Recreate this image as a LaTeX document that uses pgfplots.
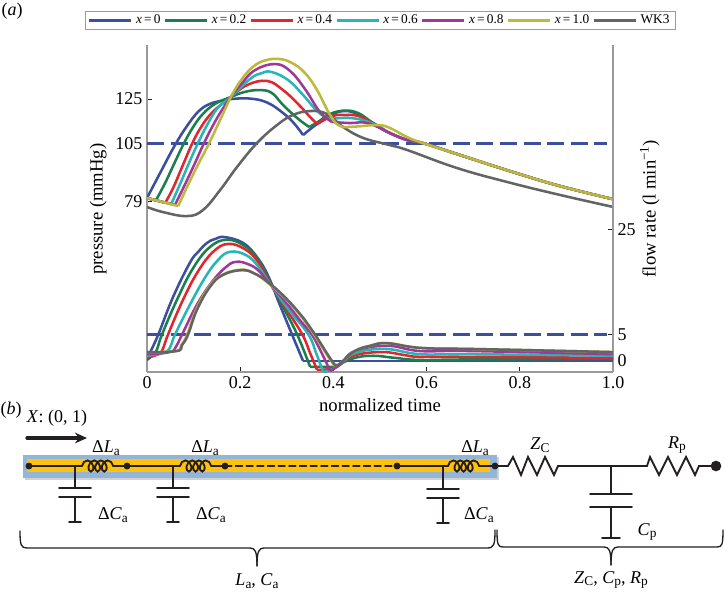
\documentclass[border=0pt]{standalone}
\usepackage{fontspec}
\setmainfont{Liberation Serif}
\usepackage{pgfplots}
\pgfplotsset{compat=1.18}
\usetikzlibrary{decorations.pathmorphing,arrows.meta}

\definecolor{cblue}{HTML}{3B4F9E}
\definecolor{cgreen}{HTML}{1A7F4E}
\definecolor{cred}{HTML}{E0262E}
\definecolor{ccyan}{HTML}{27B5B5}
\definecolor{cpurple}{HTML}{A0379A}
\definecolor{cyellow}{HTML}{BDB93A}
\definecolor{cgray}{HTML}{636466}
\definecolor{caxis}{HTML}{9A9A9A}
\definecolor{cink}{HTML}{231F20}
\definecolor{cband}{HTML}{93B5D8}
\definecolor{cgold}{HTML}{FFC20E}

\newcommand{\lab}{\fontsize{13.5}{16}\selectfont}
\newcommand{\axlab}{\fontsize{14}{16}\selectfont}
\newcommand{\sub}[1]{\raisebox{-0.3ex}{\fontsize{10}{12}\selectfont #1}}

\pgfplotsset{
  curve/.style={line width=1.9pt,smooth,tension=0.7,no markers},
  cont/.style={curve,forget plot},
  mean/.style={cblue,line width=1.9pt,dash pattern=on 12.75pt off 4.9pt,forget plot},
  base/.style={
    at={(110.25pt,-279pt)},anchor=south west,
    scale only axis,width=349.5pt,height=245.25pt,
    xmin=0,xmax=1,
    clip=true,
    axis line style={caxis,line width=1pt},
    tick style={cink,line width=0.5pt},
    major tick length=3.5pt,
    tick align=inside,
    tick label style={font=\lab},
    /pgf/number format/assume math mode=true,
    yticklabel style={/pgf/number format/fixed},
  },
}

\begin{document}
\begin{tikzpicture}[x=0.75pt,y=-0.75pt,line cap=round]
\useasboundingbox (0,0) rectangle (725,594);

\begin{axis}[base,
  axis x line*=bottom,axis y line*=left,
  ymin=2.31,ymax=149.27,
  xtick={0,0.2,0.4,0.6,0.8,1},
  xticklabels={0,0.2,0.4,0.6,0.8,1.0},
  ytick={79,105,125},
  xlabel={normalized time},
  ylabel={pressure (mmHg)},
  every axis x label/.style={at={(rel axis cs:0.5,-0.1)},anchor=center,font=\axlab},
  every axis y label/.style={at={(rel axis cs:-0.105,0.498)},rotate=90,anchor=center,font=\axlab},
]
\addplot[mean] coordinates {(0,105) (0.987,105)};
% each curve is cut at its corners so the spline stays sharp there
\addplot[cont,cblue] coordinates {(0,80.5) (.028,91.7) (.062,105) (.092,114.7) (.114,120.1) (.135,122.8) (.157,124.1) (.182,125) (.221,125.2) (.258,123.4) (.292,118.7) (.315,114.2) (.335,108.8)};
\addplot[cont,cblue] coordinates {(.335,108.8) (.356,112.4) (.376,115.2) (.399,118.3) (.425,119.6) (.451,118.3) (.479,114.7) (.5,112) (.521,109.7) (.558,106.6) (.592,105.2) (.672,99.8) (.785,92.2) (.886,85.9) (1,80)};
\addplot[cont,cgreen] coordinates {(0,80.5) (.019,79.4)};
\addplot[cont,cgreen] coordinates {(.019,79.4) (.039,87.3) (.06,96.7) (.079,105) (.099,112.4) (.12,118.3) (.146,122.8) (.18,125.9) (.21,128.2) (.242,129) (.268,127.7) (.292,122.3) (.322,116.5) (.348,112.4)};
\addplot[cont,cgreen] coordinates {(.348,112.4) (.367,114.7) (.393,118.3) (.425,119.8) (.453,118.7) (.479,115.1) (.5,112.4) (.521,109.7) (.558,106.6) (.592,105.2) (.672,99.8) (.785,92.2) (.886,85.9) (1,80)};
\addplot[cont,cred] coordinates {(0,80.5) (.039,78.3)};
\addplot[cont,cred] coordinates {(.039,78.3) (.056,85) (.077,95.3) (.097,105) (.116,112.4) (.137,118.3) (.161,122.8) (.18,125.9) (.215,131.3) (.258,133.1) (.292,129) (.324,122.8) (.35,116.9) (.365,113.8)};
\addplot[cont,cred] coordinates {(.365,113.8) (.399,117.4) (.425,117.8) (.453,117.4) (.479,114.7) (.5,112.2) (.521,109.7) (.558,106.6) (.592,105.2) (.672,99.8) (.785,92.2) (.886,85.9) (1,80)};
\addplot[cont,ccyan] coordinates {(0,80.5) (.052,77.8)};
\addplot[cont,ccyan] coordinates {(.052,77.8) (.071,86.8) (.092,97.1) (.109,105) (.129,113.3) (.152,121) (.18,125.9) (.221,134) (.247,136.7) (.268,137.1) (.303,133.5) (.335,126.8) (.367,119.2) (.391,116)};
\addplot[cont,ccyan] coordinates {(.391,116) (.425,116.5) (.453,116) (.479,114.4) (.5,112.2) (.521,109.7) (.558,106.6) (.592,105.2) (.672,99.8) (.785,92.2) (.886,85.9) (1,80)};
\addplot[cont,cpurple] coordinates {(0,80.5) (.06,77.4)};
\addplot[cont,cpurple] coordinates {(.06,77.4) (.079,85.5) (.101,95.3) (.122,105) (.142,113.3) (.161,120.1) (.18,125.9) (.202,131.7) (.232,138) (.275,140.7) (.307,137.6) (.339,129.5) (.371,119.2) (.397,114.7)};
\addplot[cont,cpurple] coordinates {(.397,114.7) (.436,114.2) (.468,114.4) (.5,112) (.521,109.7) (.558,106.6) (.592,105.2) (.672,99.8) (.785,92.2) (.886,85.9) (1,80)};
\addplot[cont,cgray] coordinates {(0,76.5) (.034,74.2) (.086,72.4) (.12,75.1) (.157,84.1) (.193,94.4) (.236,105.2) (.279,113.3) (.313,117.8) (.35,119.6) (.386,118.3) (.421,112.4) (.464,107.5) (.521,104.3) (.558,102.1) (.665,94) (.773,87.7) (.886,81.9) (1,76.5)};
\addplot[cont,cyellow] coordinates {(0,80.5) (.067,76.9)};
\addplot[cont,cyellow] coordinates {(.067,76.9) (.086,85.5) (.109,95.3) (.133,105) (.157,115.6) (.18,125.9) (.202,133.5) (.227,139.4) (.253,142.3) (.283,143) (.311,141.2) (.339,136.7) (.365,129) (.393,117.8) (.414,112.9) (.446,112.6) (.494,113.3) (.521,112) (.558,107.9) (.592,105.2) (.672,99.8) (.785,92.2) (.886,85.9) (1,80)};
\end{axis}

\begin{axis}[base,
  axis x line=none,axis y line*=right,
  ymin=-2.095,ymax=60.19,
  ytick={0,5,25},
  ylabel={flow rate (l min\textsuperscript{−1})},
  every axis y label/.style={at={(rel axis cs:1.079,0.5)},rotate=90,anchor=center,font=\axlab},
  legend columns=-1,
  legend cell align=left,
  legend style={
    at={(rel axis cs:0.501,1.075)},anchor=center,
    draw=caxis,line width=0.8pt,inner xsep=2pt,inner ysep=1pt,
    font=\fontsize{10}{12}\selectfont,
    nodes={inner xsep=2.5pt},
    /tikz/every even column/.style={column sep=0pt},
    /tikz/every odd column/.style={column sep=0pt},
  },
  legend image code/.code={\draw[#1,line width=1.9pt,line cap=butt] (0pt,0pt) -- (31.5pt,0pt);},
]
\addplot[mean] coordinates {(0,5) (0.987,5)};
\addplot[curve,cblue] coordinates {(0,.2) (.006,1.5) (.024,5) (.056,12.2) (.092,18.7) (.11,20.8) (.129,22.5) (.148,23.3) (.167,23.6) (.206,22.5) (.236,19.8) (.26,16.2) (.285,10.7) (.311,5.1) (.335,0)};
\addplot[cont,cblue] coordinates {(.335,0) (1,0)};
\addplot[curve,cgreen] coordinates {(0,.2) (.011,1) (.021,2.1) (.032,5) (.064,11.6) (.099,17.7) (.135,21.7) (.172,23.1) (.21,21.9) (.238,19.4) (.26,15.8) (.292,10.3) (.322,5.1) (.35,-1.1)};
\addplot[cont,cgreen] coordinates {(.35,-1.1) (.403,-1.1) (.414,-.6) (.446,.6) (.485,1) (.532,.6) (.586,.2) (.693,.3) (1,.4)};
\addplot[curve,cred] coordinates {(0,.6) (.024,1.3) (.034,2.3) (.045,5) (.077,11.6) (.109,17) (.142,20.8) (.174,22.3) (.21,21.3) (.238,18.9) (.26,15.4) (.296,10.3) (.333,5.1) (.35,1.5) (.365,-1.7)};
\addplot[cont,cred] coordinates {(.365,-1.7) (.393,-1.5) (.414,-.6) (.446,1.1) (.506,1.7) (.554,1.1) (.586,.8) (.693,.8) (1,.6)};
\addplot[curve,ccyan] coordinates {(0,1) (.034,1.5) (.049,2.5) (.06,5) (.092,10.7) (.124,15.8) (.152,19.2) (.178,20.8) (.212,20.2) (.238,18.1) (.26,15.2) (.303,9.9) (.346,5.1) (.363,1.5) (.378,-2.1)};
\addplot[cont,ccyan] coordinates {(.378,-2.1) (.399,-1.5) (.416,-.6) (.446,1.5) (.511,2.3) (.586,1.3) (.693,1.3) (1,1)};
\addplot[curve,cpurple] coordinates {(0,1.3) (.049,1.7) (.062,2.7) (.075,5) (.107,10.7) (.139,15) (.167,17.7) (.191,18.9) (.221,18.3) (.242,17) (.26,15) (.296,11.4) (.328,7.8) (.354,5) (.375,1.5) (.393,-1.9)};
\addplot[cont,cpurple] coordinates {(.393,-1.9) (.408,-1.1) (.418,-.4) (.446,1.9) (.515,2.9) (.586,1.9) (.693,1.9) (1,1.3)};
\addplot[curve,cyellow] coordinates {(0,1.7) (.062,1.9) (.073,3) (.086,5) (.105,9.7) (.133,14.1) (.161,16.4) (.202,17.4) (.23,16.7) (.258,15) (.298,11.8) (.337,7.8) (.359,5) (.395,0) (.406,-.8) (.418,-.2) (.446,1.9) (.479,2.9) (.515,3.4) (.586,2.5) (.693,2.3) (.8,2.1) (1,1.7)};
\addplot[curve,cgray] coordinates {(0,1.7) (.064,1.9) (.075,3) (.088,5) (.107,9.7) (.135,14.1) (.163,16.4) (.204,17.3) (.232,16.6) (.26,15) (.3,11.8) (.339,7.8) (.361,5) (.397,0) (.408,-.8) (.418,-.2) (.446,1.9) (.479,2.9) (.515,3.4) (.586,2.5) (.693,2.3) (.8,2.1) (1,1.7)};
\legend{\textit{x}\,=\,0,\textit{x}\,=\,0.2,\textit{x}\,=\,0.4,\textit{x}\,=\,0.6,\textit{x}\,=\,0.8,\textit{x}\,=\,1.0,WK3}
\end{axis}

% panel letters
\node[font=\lab] at (12,11) {(\textit{a})};
\node[font=\lab] at (11,410) {(\textit{b})};

% panel (b): transmission line
\fill[black!18] (25,457) rectangle (499,480);
\fill[cband] (23,455) rectangle (497,478);
\fill[cgold] (27,459) rectangle (490,472);

\draw[cink,line width=2.4pt,-{Stealth[length=9pt,width=8pt]}] (27,438) -- (87,438);
\node[font=\lab,anchor=center] at (57,418) {\textit{X}: (0, 1)};

\begin{scope}[cink,line width=1.4pt]
  % line segments
  \draw (29,466) -- (82,466);
  \draw (117,466) -- (127,466) -- (180,466);
  \draw (215,466) -- (225,466);
  \draw[dash pattern=on 5pt off 3pt] (225,466) -- (397,466);
  \draw (397,466) -- (448,466);
  \draw (485,466) -- (508,466);
  % inductors
  \foreach \a/\b in {82/117,180/215,448/485}
    \draw[decorate,decoration={coil,aspect=0.7,segment length=5pt,amplitude=4.2pt}] (\a,466) -- (\b,466);
  % resistors
  \draw (508,466) -- (513,457) -- (521,475) -- (528,457) -- (537,475) -- (545,457) -- (554,475) -- (558,466);
  \draw[line width=1.8pt] (558,466) -- (637,466);
  \draw (637,466) -- (647,466) -- (650,457) -- (659,475) -- (668,457) -- (677,475) -- (686,457) -- (695,475) -- (699,466) -- (716,466);
  % capacitors
  \foreach \c in {75,173} {
    \draw (\c,466) -- (\c,488);
    \draw (\c-16,488) -- (\c+16,488);
    \draw (\c-16,497) -- (\c+16,497);
    \draw (\c,497) -- (\c,522);
    \draw (\c-6,522) -- (\c+6,522);
  }
  \draw (443,466) -- (443,489);
  \draw (427,489) -- (459,489);
  \draw (427,498) -- (459,498);
  \draw (443,498) -- (443,523);
  \draw (437,523) -- (449,523);
  \draw (611,466) -- (611,494);
  \draw (590,494) -- (632,494);
  \draw (590,507) -- (632,507);
  \draw (611,507) -- (611,538);
  \draw (602,538) -- (620,538);
  % nodes
  \foreach \p in {29,127,225,397,495}
    \fill (\p,466) circle (2.6pt);
  \fill (716,466) circle (4pt);
  % braces
  \draw[line width=1pt] (20,531) .. controls (20,545) and (21,548) .. (27,548) -- (250,548) .. controls (255,548) and (257,551) .. (257,566);
  \draw[line width=1pt] (257,566) .. controls (257,551) and (259,548) .. (264,548) -- (487,548) .. controls (494,548) and (495,545) .. (495,530);
  \draw[line width=1pt] (497,530) .. controls (497,545) and (498,547) .. (503,547) -- (604,547) .. controls (609,547) and (611,550) .. (611,565);
  \draw[line width=1pt] (611,565) .. controls (611,550) and (613,547) .. (618,547) -- (717,547) .. controls (722,547) and (723,545) .. (723,530);
\end{scope}

% circuit labels
\node[font=\lab] at (106,448) {Δ\textit{L}\sub{a}};
\node[font=\lab] at (205,448) {Δ\textit{L}\sub{a}};
\node[font=\lab] at (475,448) {Δ\textit{L}\sub{a}};
\node[font=\lab] at (113,515) {Δ\textit{C}\sub{a}};
\node[font=\lab] at (211,515) {Δ\textit{C}\sub{a}};
\node[font=\lab] at (479,515) {Δ\textit{C}\sub{a}};
\node[font=\lab] at (540,445) {\textit{Z}\sub{C}};
\node[font=\lab] at (677,445) {\textit{R}\sub{p}};
\node[font=\lab] at (647,532) {\textit{C}\sub{p}};
\node[font=\lab] at (257,581) {\textit{L}\sub{a}, \textit{C}\sub{a}};
\node[font=\lab] at (611,580) {\textit{Z}\sub{C}, \textit{C}\sub{p}, \textit{R}\sub{p}};
\end{tikzpicture}
\end{document}
